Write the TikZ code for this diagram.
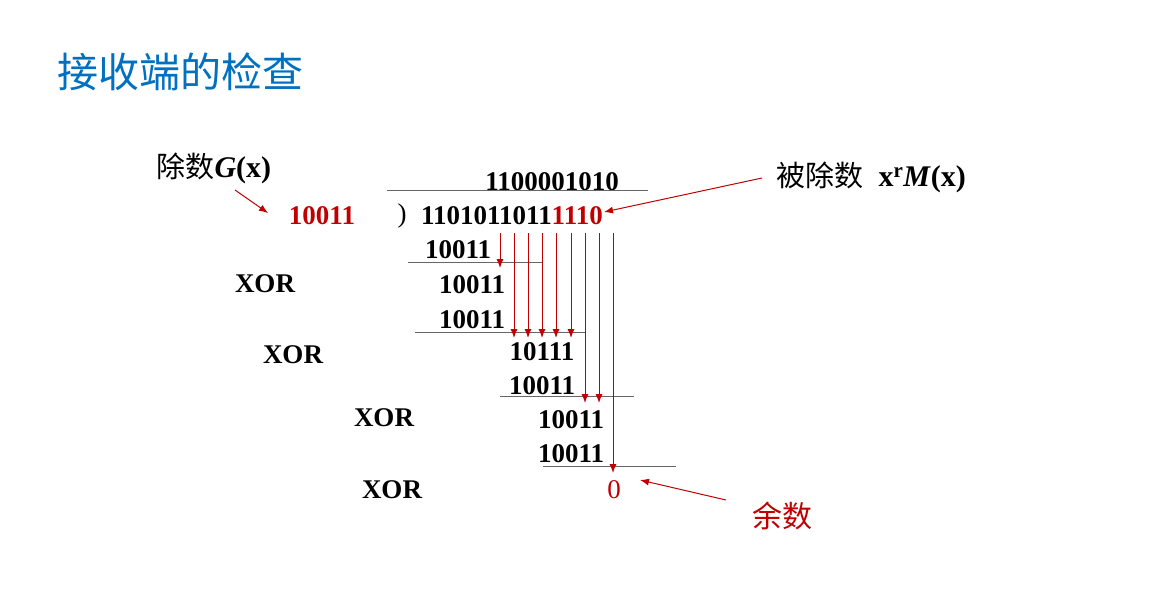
\documentclass[tikz,border=0pt]{standalone}
\usepackage{fontspec}
\usetikzlibrary{arrows.meta}
\setmainfont{Liberation Serif}
\newfontfamily\cjk{Noto Sans CJK SC}
\definecolor{dred}{RGB}{192,0,0}
\definecolor{tblue}{RGB}{0,112,192}
\begin{document}
\begin{tikzpicture}[x=1pt,y=-1pt,
  num/.style={font=\fontsize{27}{30}\selectfont\bfseries,inner sep=0pt},
  red1/.style={color=dred},
  rule/.style={draw=gray!80!black,line width=1pt},
  va/.style={draw=dred,line width=1pt,-{Latex[length=9pt,width=7pt]}}]
\useasboundingbox (0,0) rectangle (1175,590);
\node[font=\cjk\fontsize{41}{46}\selectfont,color=tblue,anchor=west] (title) at (54,72) {接收端的检查};
\node[font=\fontsize{30}{34}\selectfont,anchor=west] (g) at (153,168) {{\cjk\fontsize{29}{34}\selectfont 除数}\textbf{\textit{G}(x)}};
\node[font=\fontsize{30}{34}\selectfont,anchor=west] (m) at (773,177) {{\cjk\fontsize{29}{34}\selectfont 被除数}\ \ \textbf{x\textsuperscript{r}\textit{M}(x)}};
\node[font=\cjk\fontsize{30}{34}\selectfont,red1] (rem) at (782,516) {余数};
\node[num] (q) at (552,182) {1100001010};
\node[num,red1] (d) at (322,216) {10011};
\node[font=\fontsize{27}{30}\selectfont] (p) at (402,216) {)};
\node[num,anchor=west] (dd) at (421,216) {1101011011\textcolor{dred}{1110}};
\node[num] (r1) at (458,250) {10011};
\node[num] (r2) at (472,285) {10011};
\node[num] (r3) at (472,320) {10011};
\node[num] (r4) at (542,352) {10111};
\node[num] (r5) at (542,386) {10011};
\node[num] (r6) at (571,420) {10011};
\node[num] (r7) at (571,454) {10011};
\node[font=\fontsize{27}{30}\selectfont,red1,inner sep=0pt] (z) at (614,490) {0};
\foreach \n/\x/\y in {x1/265/284,x2/293/355,x3/384/418,x4/392/490}
  \node[num] (\n) at (\x,\y) {XOR};
\coordinate (h1a) at (387,190); \coordinate (h1b) at (648,190);
\draw[rule] (h1a) -- (h1b);
\coordinate (h2a) at (408,262); \coordinate (h2b) at (542,262);
\draw[rule] (h2a) -- (h2b);
\coordinate (h3a) at (415,332); \coordinate (h3b) at (585,332);
\draw[rule] (h3a) -- (h3b);
\coordinate (h4a) at (500,396); \coordinate (h4b) at (634,396);
\draw[rule] (h4a) -- (h4b);
\coordinate (h5a) at (543,466); \coordinate (h5b) at (676,466);
\draw[rule] (h5a) -- (h5b);
\coordinate (t1) at (500,233); \coordinate (b1) at (500,268);
\draw[va] (t1) -- (b1);
\foreach \x in {514,528,542,556,571}{
  \coordinate (t\x) at (\x,233); \coordinate (b\x) at (\x,338);
  \draw[va] (t\x) -- (b\x);}
\foreach \x in {585,599}{
  \coordinate (t\x) at (\x,233); \coordinate (b\x) at (\x,403);
  \draw[va] (t\x) -- (b\x);}
\coordinate (t613) at (613,233); \coordinate (b613) at (613,473);
\draw[va] (t613) -- (b613);
\coordinate (ga) at (235,190); \coordinate (gb) at (268,213);
\draw[va] (ga) -- (gb);
\coordinate (ma) at (762,178); \coordinate (mb) at (604,212);
\draw[va] (ma) -- (mb);
\coordinate (ra) at (726,500); \coordinate (rb) at (640,480);
\draw[va] (ra) -- (rb);
\end{tikzpicture}
\end{document}
